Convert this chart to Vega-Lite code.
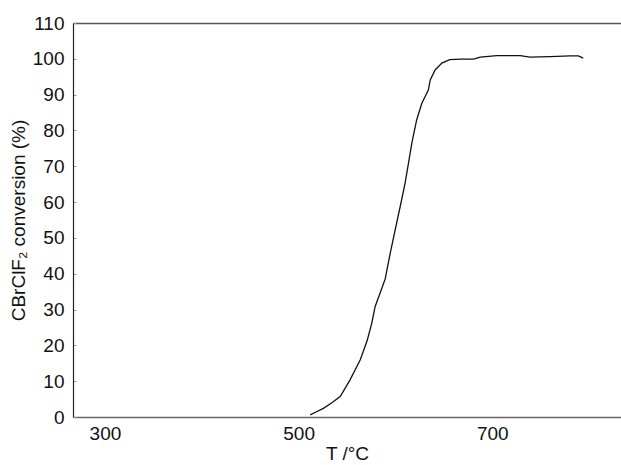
{
  "$schema": "https://vega.github.io/schema/vega-lite/v6.json",
  "width": 548,
  "height": 394,
  "autosize": {"type": "none"},
  "padding": {"left": 73, "top": 23, "right": 0, "bottom": 48},
  "background": "white",
  "config": {
    "view": {"stroke": null},
    "font": "Liberation Sans",
    "axis": {"grid": false, "labelFont": "Liberation Sans", "titleFont": "Liberation Sans", "labelColor": "#111", "titleColor": "#111", "titleFontWeight": "normal"}
  },
  "data": {
    "values": [
      {"T": 512, "c": 0.6},
      {"T": 518, "c": 1.4},
      {"T": 525.6, "c": 2.4},
      {"T": 534, "c": 3.9},
      {"T": 543, "c": 5.7},
      {"T": 553, "c": 10.3},
      {"T": 563.6, "c": 15.9},
      {"T": 571, "c": 21.5},
      {"T": 575.6, "c": 26.2},
      {"T": 579, "c": 30.8},
      {"T": 584, "c": 34.5},
      {"T": 589.4, "c": 38.5},
      {"T": 594.6, "c": 45.7},
      {"T": 599.7, "c": 52.2},
      {"T": 604.9, "c": 58.7},
      {"T": 610, "c": 65.3},
      {"T": 613.5, "c": 70.9},
      {"T": 617, "c": 76.5},
      {"T": 622, "c": 83},
      {"T": 627.3, "c": 87.6},
      {"T": 634, "c": 91.3},
      {"T": 636, "c": 94.1},
      {"T": 641, "c": 96.9},
      {"T": 648, "c": 98.8},
      {"T": 656, "c": 99.8},
      {"T": 668, "c": 99.9},
      {"T": 680.7, "c": 99.9},
      {"T": 687.6, "c": 100.5},
      {"T": 704.8, "c": 100.9},
      {"T": 728.9, "c": 100.9},
      {"T": 739, "c": 100.5},
      {"T": 760, "c": 100.6},
      {"T": 780.6, "c": 100.8},
      {"T": 789, "c": 100.8},
      {"T": 794, "c": 100.2}
    ]
  },
  "resolve": {"axis": {"x": "independent"}},
  "layer": [
    {
      "mark": {"type": "line", "color": "#111", "strokeWidth": 1.3, "interpolate": "linear"},
      "encoding": {
        "x": {
          "field": "T", "type": "quantitative",
          "scale": {"domain": [267, 833], "nice": false, "zero": false},
          "axis": {"orient": "bottom", "values": [300, 500, 700], "title": "T /°C", "titleFontSize": 19, "labelFontSize": 19, "ticks": false, "labelPadding": 7, "titlePadding": 1, "domainColor": "#666", "domainWidth": 1.5, "labelFlush": false}
        },
        "y": {
          "field": "c", "type": "quantitative",
          "scale": {"domain": [0, 110], "nice": false},
          "axis": {"values": [0, 10, 20, 30, 40, 50, 60, 70, 80, 90, 100, 110], "title": "CBrClF₂ conversion (%)", "titleFontSize": 19, "labelFontSize": 19, "tickSize": -3, "tickColor": "#999", "labelPadding": 12, "titlePadding": 4, "domainColor": "#222", "domainWidth": 1.2, "labelFlush": false}
        }
      }
    },
    {
      "mark": {"type": "rule", "opacity": 0},
      "encoding": {
        "x": {"field": "T", "type": "quantitative", "axis": {"orient": "top", "labels": false, "ticks": false, "title": null, "domainColor": "#555", "domainWidth": 1.5}}
      }
    }
  ]
}
